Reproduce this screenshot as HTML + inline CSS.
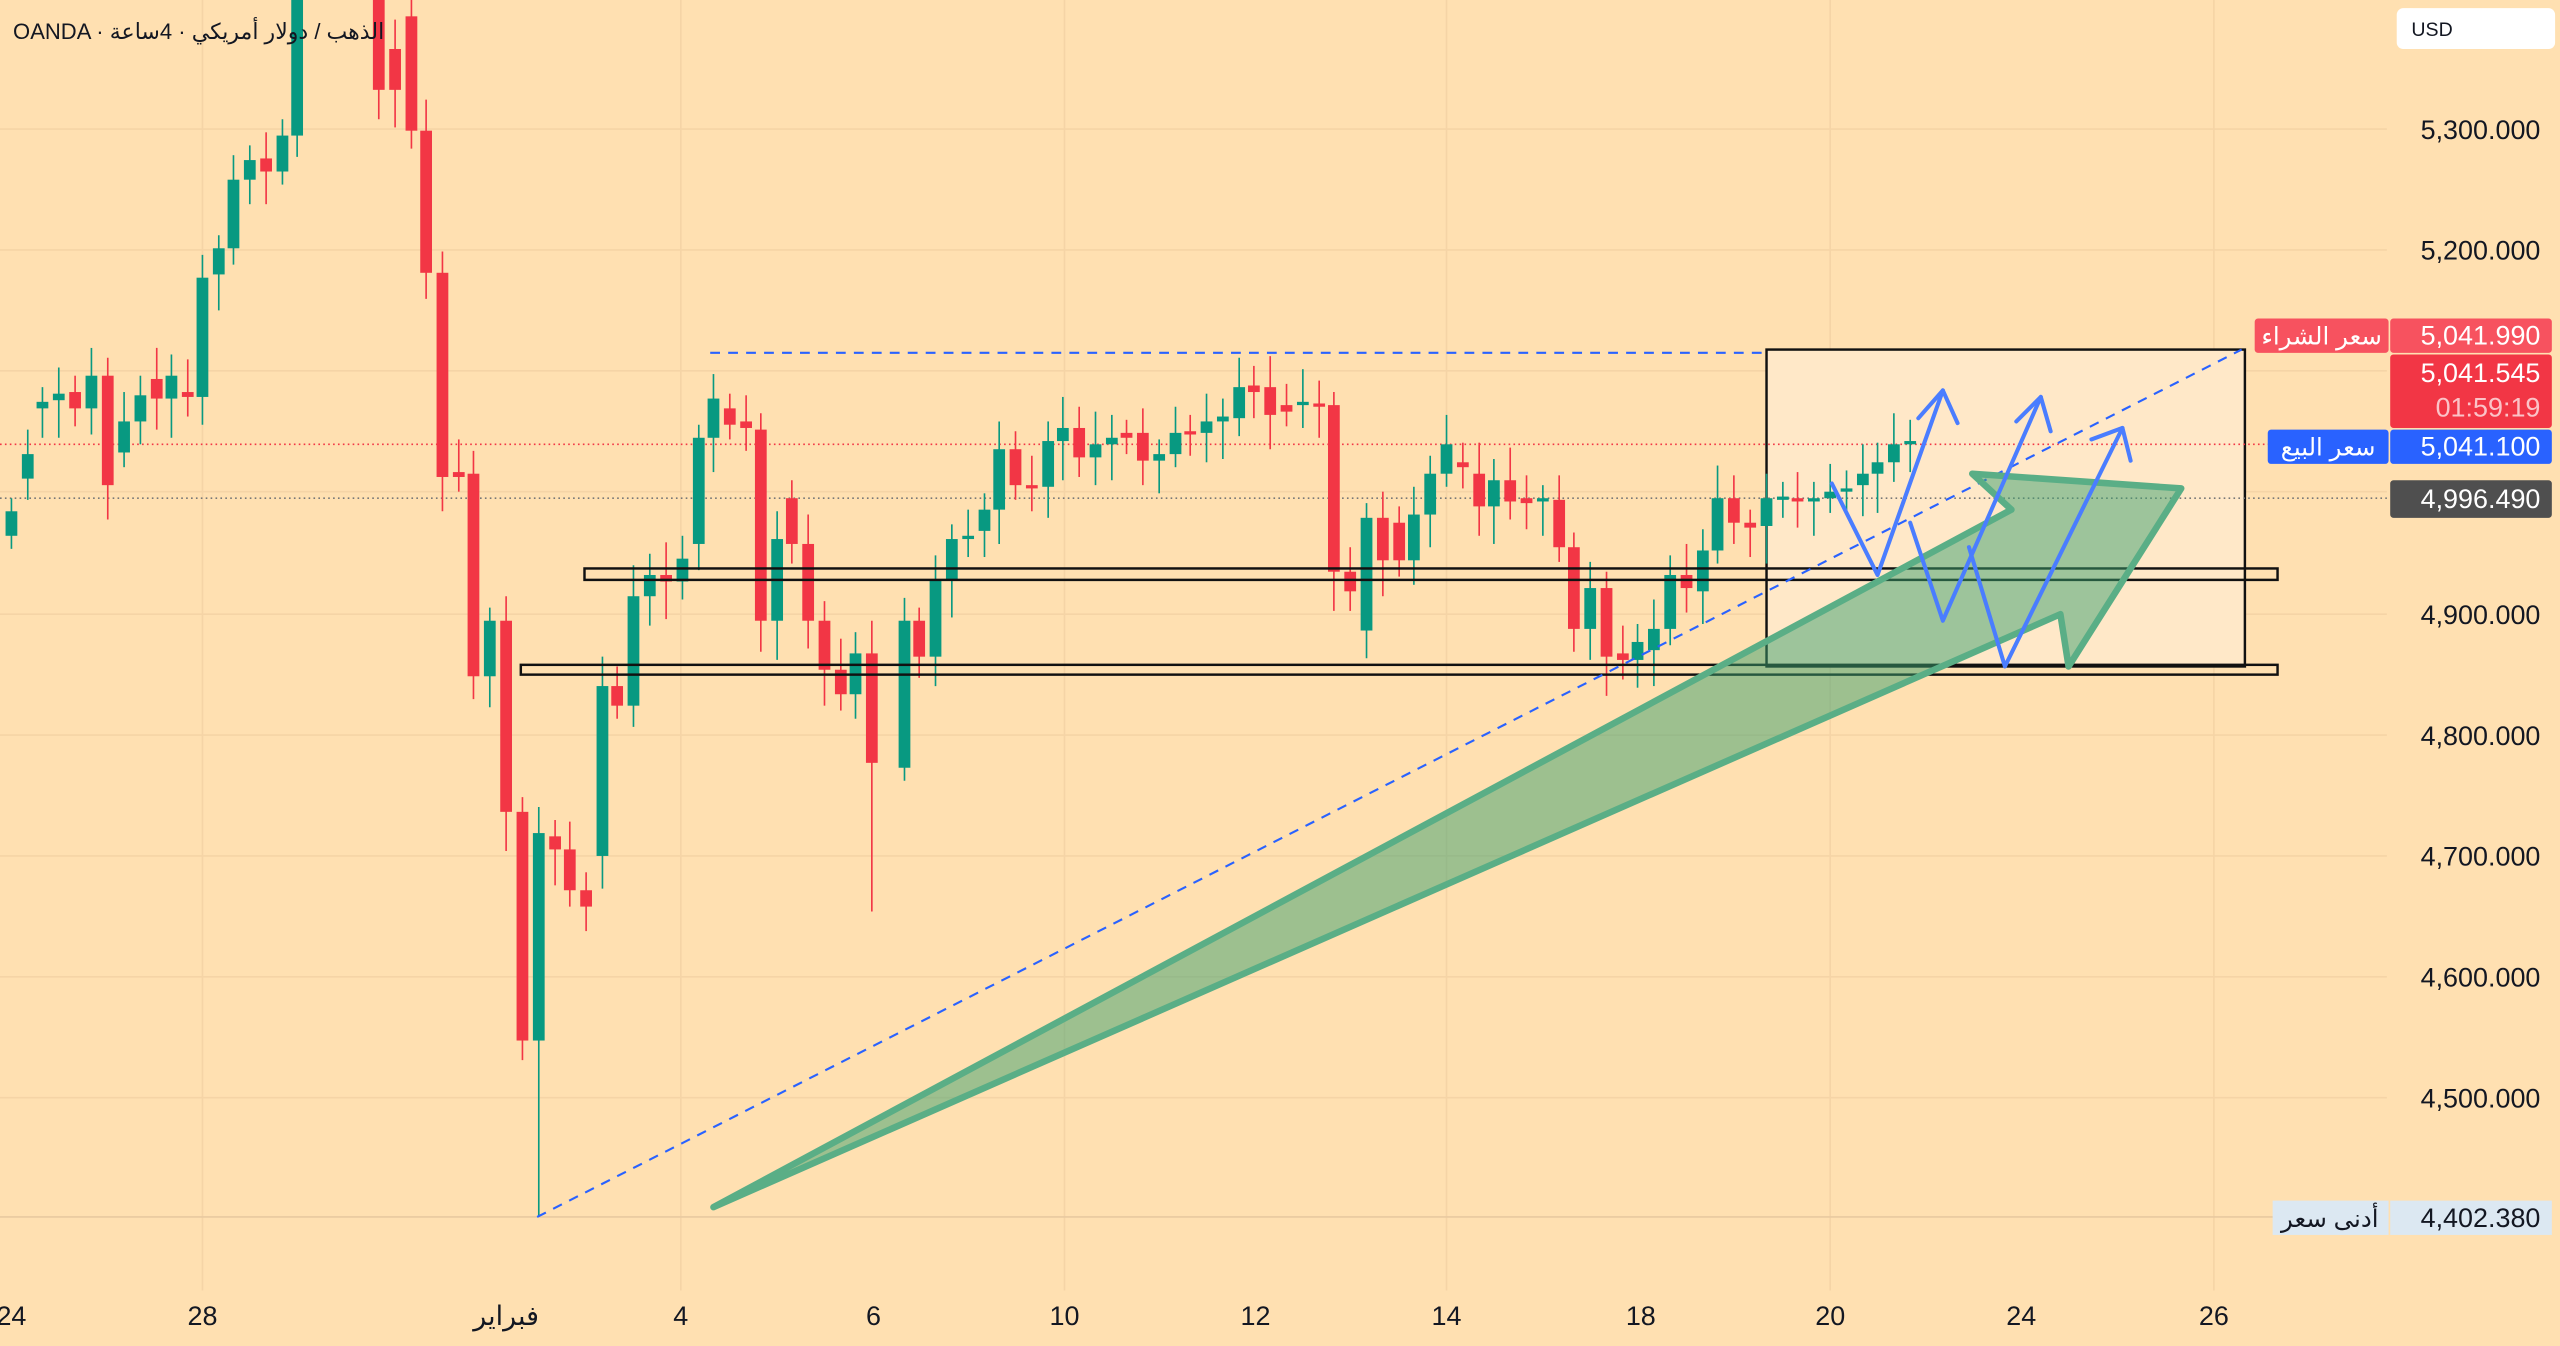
<!DOCTYPE html>
<html><head><meta charset="utf-8"><style>
html,body{margin:0;padding:0;background:#ffe0b1;overflow:hidden}
svg{display:block}
text{font-family:"Liberation Sans","DejaVu Sans",sans-serif}
</style></head><body>
<svg id="s" width="2560" height="1346" viewBox="0 0 1568 824" preserveAspectRatio="none" xmlns="http://www.w3.org/2000/svg">
<rect x="0" y="0" width="1568" height="824" fill="#ffe0b1"/>
<g stroke="#f5d4a6" stroke-width="1">
<line x1="124" y1="0" x2="124" y2="790"/><line x1="417" y1="0" x2="417" y2="790"/><line x1="652" y1="0" x2="652" y2="790"/><line x1="886" y1="0" x2="886" y2="790"/><line x1="1121" y1="0" x2="1121" y2="790"/><line x1="1356" y1="0" x2="1356" y2="790"/>
<line x1="0" y1="79" x2="1462" y2="79"/><line x1="0" y1="153" x2="1462" y2="153"/><line x1="0" y1="227" x2="1462" y2="227"/><line x1="0" y1="301" x2="1462" y2="301"/><line x1="0" y1="376" x2="1462" y2="376"/><line x1="0" y1="450" x2="1462" y2="450"/><line x1="0" y1="524" x2="1462" y2="524"/><line x1="0" y1="598" x2="1462" y2="598"/><line x1="0" y1="672" x2="1462" y2="672"/>
</g>
<rect x="1082" y="214" width="293" height="194" fill="#ffe8c8" stroke="#111" stroke-width="1.5"/>
<line x1="0" y1="272" x2="1462" y2="272" stroke="#f23645" stroke-width="1" stroke-dasharray="1,2"/>
<line x1="0" y1="305" x2="1462" y2="305" stroke="#777" stroke-width="1" stroke-dasharray="1,2"/>
<line x1="0" y1="745" x2="1462" y2="745" stroke="#e8c9a0" stroke-width="1"/>
<g id="c"></g>
<rect x="358" y="348" width="1037" height="7" fill="none" stroke="#111" stroke-width="1.5"/>
<rect x="319" y="407" width="1076" height="6" fill="none" stroke="#111" stroke-width="1.5"/>
<line x1="435" y1="216" x2="1082" y2="216" stroke="#2962ff" stroke-width="1.3" stroke-dasharray="6,5"/>
<line x1="329" y1="745" x2="1373" y2="214" stroke="#2962ff" stroke-width="1.3" stroke-dasharray="6,5"/>
<polygon points="437,739 1232,312 1208,290 1336,299 1267,408 1262,376" fill="rgba(60,160,110,0.5)" stroke="#5aae86" stroke-width="4" stroke-linejoin="round"/>
<g stroke="#4a7dff" stroke-width="2.5" fill="none" stroke-linecap="round" stroke-linejoin="round">
<polyline points="1122,296 1150,352 1190,239"/><polyline points="1175,256 1190,239 1199,259"/>
<polyline points="1170,320 1190,380 1250,243"/><polyline points="1235,258 1250,243 1256,264"/>
<polyline points="1206,335 1228,408 1300,262"/><polyline points="1281,269 1300,262 1305,282"/>
</g>
<rect x="1462" y="0" width="106" height="824" fill="#ffe0b1"/>
<rect x="1468" y="5" width="97" height="25" rx="4" fill="#fff"/>
<text x="1477" y="22" font-size="12" fill="#131722">USD</text>
<g font-size="16.5" fill="#131722" text-anchor="end">
<text x="1556" y="85">5,300.000</text><text x="1556" y="159">5,200.000</text><text x="1556" y="382">4,900.000</text><text x="1556" y="456">4,800.000</text><text x="1556" y="530">4,700.000</text><text x="1556" y="604">4,600.000</text><text x="1556" y="678">4,500.000</text>
</g>
<rect x="1381" y="195" width="82" height="21" rx="2" fill="#f7525f"/>
<rect x="1464" y="195" width="99" height="21" rx="2" fill="#f7525f"/>
<rect x="1464" y="217" width="99" height="45" rx="2" fill="#f23645"/>
<rect x="1389" y="263" width="74" height="21" rx="2" fill="#2962ff"/>
<rect x="1464" y="263" width="99" height="21" rx="2" fill="#2962ff"/>
<rect x="1464" y="294" width="99" height="23" rx="2" fill="#4f4f4f"/>
<rect x="1392" y="735" width="71" height="21" fill="#dce8f2"/>
<rect x="1464" y="735" width="99" height="21" fill="#dce8f2"/>
<g font-size="16.5" fill="#fff" text-anchor="end">
<text x="1556" y="211">5,041.990</text><text x="1556" y="234">5,041.545</text><text x="1556" y="255" fill="#fbc3c7">01:59:19</text><text x="1556" y="279">5,041.100</text><text x="1556" y="311">4,996.490</text><text x="1556" y="751" fill="#131722">4,402.380</text>
</g>
<g font-size="15" fill="#fff" text-anchor="middle" font-family="'Liberation Sans','DejaVu Sans',sans-serif">
<text x="1422" y="211">سعر الشراء</text><text x="1426" y="279">سعر البيع</text><text x="1427" y="751" fill="#131722">أدنى سعر</text>
</g>
<g font-size="16.5" fill="#131722" text-anchor="middle">
<text x="7" y="811">24</text><text x="124" y="811">28</text><text x="310" y="811">فبراير</text><text x="417" y="811">4</text><text x="535" y="811">6</text><text x="652" y="811">10</text><text x="769" y="811">12</text><text x="886" y="811">14</text><text x="1005" y="811">18</text><text x="1121" y="811">20</text><text x="1238" y="811">24</text><text x="1356" y="811">26</text>
</g>
<text x="8" y="24" font-size="13.5" fill="#131722">OANDA · الذهب / دولار أمريكي · 4ساعة</text>
</svg>
<script>
var d=[[7,328,313],[17,293,278],[26,250,246],[36,245,241],[46,240,250],[56,250,230],[66,230,297],[76,277,258],[86,258,242],[96,232,244],[105,244,230],[115,240,243],[124,243,170],[134,168,152],[143,152,110],[153,110,98],[163,97,105],[173,105,83],[182,83,0],[232,0,55],[242,30,55],[252,10,80],[261,80,167],[271,167,292],[281,289,292],[290,290,414],[300,414,380],[310,380,497],[320,497,637],[330,637,510],[340,512,520],[349,520,545],[359,545,555],[369,524,420],[378,420,432],[388,432,365],[398,365,352],[408,352,356],[418,356,342],[428,333,268],[437,268,244],[447,250,260],[457,258,262],[466,263,380],[476,380,330],[485,305,333],[495,333,380],[505,380,410],[515,410,425],[524,425,400],[534,400,467],[554,470,380],[563,380,402],[573,402,355],[583,355,330],[593,330,328],[603,325,312],[612,312,275],[622,275,297],[632,297,299],[642,298,270],[651,270,262],[661,262,280],[671,280,272],[681,272,268],[690,265,268],[700,265,282],[710,282,278],[720,278,265],[729,264,266],[739,265,258],[749,258,255],[759,256,237],[768,236,240],[778,237,254],[788,248,252],[798,248,246],[808,247,249],[817,248,350],[827,350,362],[837,386,317],[847,317,343],[857,320,343],[866,343,315],[876,315,290],[886,290,272],[896,283,286],[906,290,310],[915,310,294],[925,294,307],[935,305,308],[945,307,305],[955,306,335],[964,335,385],[974,385,360],[984,360,402],[994,400,404],[1003,404,393],[1013,398,385],[1023,385,352],[1033,352,360],[1043,362,337],[1052,337,305],[1062,305,320],[1072,320,323],[1082,322,305],[1092,306,304],[1101,305,307],[1111,307,305],[1121,305,301],[1131,301,299],[1141,297,290],[1150,290,283],[1160,283,272],[1170,272,270]];
var g=document.getElementById('c'),h='';
d.forEach(function(c,i){var x=c[0],o=c[1],cl=c[2],up=cl<=o,col=up?'#089981':'#f23645';var t=Math.min(o,cl),b=Math.max(o,cl);var hi=t-8-(i*7%13),lo=b+8+(i*5%17);if(x==330)lo=745;if(x==544||x==534)lo=558;h+='<line x1="'+x+'" y1="'+hi+'" x2="'+x+'" y2="'+lo+'" stroke="'+col+'" stroke-width="1"/>';h+='<rect x="'+(x-3.6)+'" y="'+t+'" width="7.2" height="'+Math.max(1.5,b-t)+'" fill="'+col+'"/>';});
g.innerHTML=h;
</script>
</body></html>
